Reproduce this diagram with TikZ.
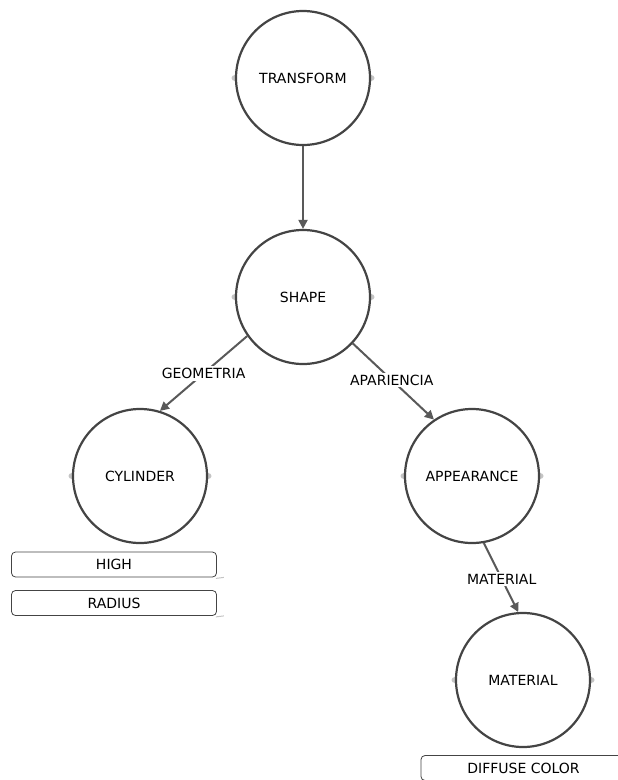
\documentclass[tikz,border=0pt]{standalone}
\usepackage{fontspec}
\setmainfont{DejaVu Sans}
\usetikzlibrary{arrows.meta,calc}
\definecolor{ink}{HTML}{444444}
\definecolor{wire}{HTML}{595959}
\definecolor{port}{HTML}{C4C4C4}
\tikzset{
  nodecirc/.style={circle, draw=ink, line width=2.2pt, fill=white, minimum size=134pt, inner sep=0pt, font=\fontsize{14}{16}\selectfont},
  field/.style={draw=ink, line width=0.8pt, rounded corners=4pt, fill=white, minimum width=205pt, minimum height=25pt, inner sep=0pt, font=\fontsize{14}{16}\selectfont},
  link/.style={draw=wire, line width=2pt, -{Triangle[length=9pt,width=9pt]}},
  tag/.style={fill=white, inner sep=2pt, font=\fontsize{14}{16}\selectfont},
  portdot/.style={fill=port, draw=none},
  tail/.style={draw=port, line width=1pt}
}
\begin{document}
\begin{tikzpicture}[x=1pt,y=-1pt]
\useasboundingbox (0,0) rectangle (618,780);

% port dots sit behind the circles
\coordinate (pT) at (303,78);
\coordinate (pS) at (303,297);
\coordinate (pC) at (140,476);
\coordinate (pA) at (472,476);
\coordinate (pM) at (523,680);
\foreach \p in {pT,pS,pC,pA,pM}{
  \fill[portdot] ($(\p)+(-68,0)$) ellipse (3.5pt and 3pt);
  \fill[portdot] ($(\p)+(68,0)$) ellipse (3.5pt and 3pt);
}

\node[nodecirc] (transform) at (pT) {TRANSFORM};
\node[nodecirc] (shape) at (pS) {SHAPE};
\node[nodecirc] (cylinder) at (pC) {CYLINDER};
\node[nodecirc] (appearance) at (pA) {APPEARANCE};
\node[nodecirc] (material) at (pM) {MATERIAL};

% connectors
\draw[link] (transform.south) -- (shape.north);
\draw[link] (shape.215) -- node[tag, pos=0.5] {GEOMETRIA} (cylinder.73);
\draw[link] (shape.317) -- node[tag, pos=0.48] {APARIENCIA} (appearance.124);
\draw[link] (appearance.280) -- node[tag, pos=0.52] {MATERIAL} (material.94);

% field boxes with their small shadow tails
\node[field] (high) at (114,564.5) {HIGH};
\node[field] (radius) at (114,603) {RADIUS};
\node[field] (diffuse) at (523.5,768) {DIFFUSE COLOR};
\draw[tail] ([xshift=-1pt,yshift=-1pt]high.south east) -- ++(8,-1);
\draw[tail] ([xshift=-1pt,yshift=-1pt]radius.south east) -- ++(8,-1);
\end{tikzpicture}
\end{document}
